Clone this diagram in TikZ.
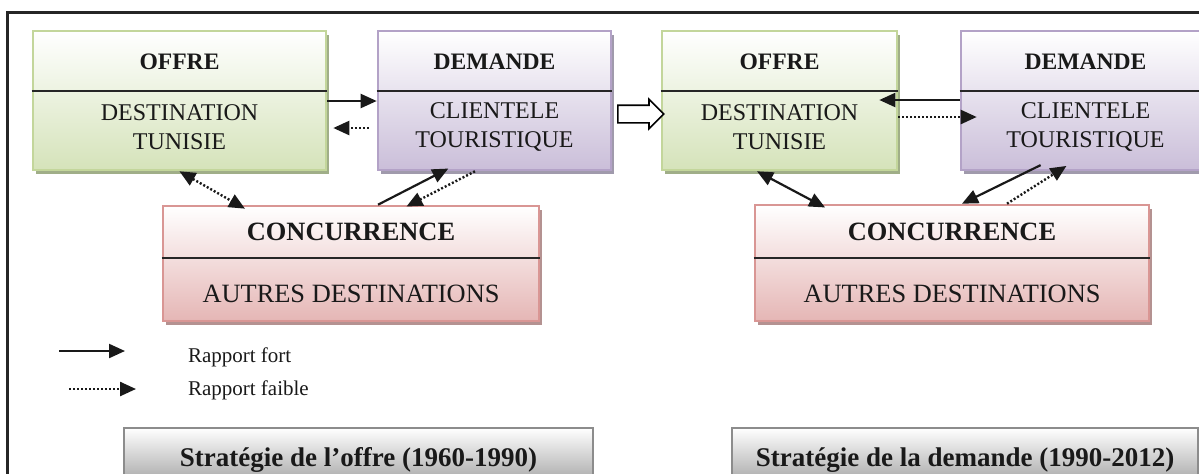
\documentclass[tikz,border=0pt]{standalone}
\usepackage{fontspec}
\setmainfont{Liberation Serif}
\usepackage{tikz}
\usetikzlibrary{
  arrows.meta,
  positioning,
  calc,
  fit,
  shadows,
  shapes.arrows}
\definecolor{vertbord}{RGB}{195,214,155}
\definecolor{vertfond}{RGB}{213,227,186}
\definecolor{vertombre}{RGB}{160,174,136}
\definecolor{violetbord}{RGB}{179,162,199}
\definecolor{violetfond}{RGB}{202,190,217}
\definecolor{violetombre}{RGB}{160,154,172}
\definecolor{rougebord}{RGB}{217,150,148}
\definecolor{rougefond}{RGB}{229,182,181}
\definecolor{rougeombre}{RGB}{180,146,145}
\definecolor{grisbord}{RGB}{140,140,140}
\definecolor{grisfond}{RGB}{140,140,140}
\tikzset{
  boite/.style n args={3}{draw=#1, line width=1.3pt, top color=white, bottom color=#2, inner sep=0pt,
    drop shadow={shadow xshift=1.5pt, shadow yshift=-2pt, fill=#3, opacity=1}},
  entete/.style={font=\fontsize{11.8}{14}\selectfont\bfseries, text=black!90},
  corps/.style={font=\fontsize{12}{14.5}\selectfont, align=center, text=black!90},
  grandentete/.style={font=\fontsize{13.2}{15}\selectfont\bfseries, text=black!90},
  grandcorps/.style={font=\fontsize{13.2}{15}\selectfont, text=black!90},
  legende/.style={font=\fontsize{10.5}{12}\selectfont, text=black!90, anchor=west},
  separation/.style={line width=0.8pt, black!85},
  fort/.style={-{Triangle[length=8pt,width=7pt]}, line width=1.1pt, black!90},
  faible/.style={-{Triangle[length=8pt,width=7pt]}, line width=1.2pt, dash pattern=on 1pt off 1pt, black!90},
  pointes/.style={{Triangle[length=8pt,width=7pt]}-{Triangle[length=8pt,width=7pt]}},
  basbox/.style={draw=grisbord, line width=1.2pt, top color=white, bottom color=grisfond, inner sep=0pt},
  bastexte/.style={font=\fontsize{13.5}{16}\selectfont\bfseries, text=black!90}
}

\begin{document}
\begin{tikzpicture}[x=0.5pt, y=-0.5pt, node distance=2em]
\useasboundingbox (0,0) rectangle (1199,473);
%cadre
\draw[line width=1.3pt, black!85] (7.5,12.5) rectangle (1215,495);

%strategie de l'offre
\node[boite={vertbord}{vertfond}{vertombre}, fit={(33,31) (326,170)}] (offreA) {};
\node[boite={violetbord}{violetfond}{violetombre}, fit={(378,31) (611,170)}] (demandeA) {};
\node[boite={rougebord}{rougefond}{rougeombre}, fit={(163,206) (539,321)}] (concA) {};
\draw[separation] (offreA.west |- 0,91) -- (offreA.east |- 0,91);
\draw[separation] (demandeA.west |- 0,91) -- (demandeA.east |- 0,91);
\draw[separation] (concA.west |- 0,258) -- (concA.east |- 0,258);
\node[entete] at (offreA.north |- 0,62) {OFFRE};
\node[corps] at (offreA.north |- 0,127) {DESTINATION\\TUNISIE};
\node[entete] at (demandeA.north |- 0,62) {DEMANDE};
\node[corps] at (demandeA.north |- 0,127) {CLIENTELE\\TOURISTIQUE};
\node[grandentete] at (concA.north |- 0,232) {CONCURRENCE};
\node[grandcorps] at (concA.north |- 0,294) {AUTRES DESTINATIONS};

%strategie de la demande
\node[boite={vertbord}{vertfond}{vertombre}, fit={(662,31) (897,170)}] (offreB) {};
\node[boite={violetbord}{violetfond}{violetombre}, fit={(961,31) (1210,170)}] (demandeB) {};
\node[boite={rougebord}{rougefond}{rougeombre}, fit={(755,205) (1149,321)}] (concB) {};
\draw[separation] (offreB.west |- 0,91) -- (offreB.east |- 0,91);
\draw[separation] (demandeB.west |- 0,91) -- (demandeB.east |- 0,91);
\draw[separation] (concB.west |- 0,258) -- (concB.east |- 0,258);
\node[entete] at (offreB.north |- 0,62) {OFFRE};
\node[corps] at (offreB.north |- 0,127) {DESTINATION\\TUNISIE};
\node[entete] at (demandeB.north |- 0,62) {DEMANDE};
\node[corps] at (demandeB.north |- 0,127) {CLIENTELE\\TOURISTIQUE};
\node[grandentete] at (concB.north |- 0,232) {CONCURRENCE};
\node[grandcorps] at (concB.north |- 0,294) {AUTRES DESTINATIONS};

%passage
\node[single arrow, draw, line width=0.8pt, fill=white, inner sep=0pt, text height=8pt,
  minimum height=23pt, single arrow head extend=3pt, anchor=west] (passage) at (617,114) {};

%lines
\draw[fort] (offreA.east |- 0,101) -- (demandeA.west |- 0,101);
\draw[faible, shorten <=4pt, shorten >=3pt] (demandeA.west |- 0,128) -- (offreA.east |- 0,128);
\draw[faible, pointes, shorten >=-4pt] (offreA.south) -- (concA.north -| 238,0);
\draw[fort, shorten >=-3pt] (concA.north -| 378,0) -- (demandeA.south -| 443,0);
\draw[faible, shorten >=-2pt] (demandeA.south -| 475,0) -- (concA.north -| 410,0);

\draw[fort, shorten >=-9.5pt] (demandeB.west |- 0,100) -- (offreB.east |- 0,100);
\draw[faible, shorten >=-8.5pt] (offreB.east |- 0,117) -- (demandeB.west |- 0,117);
\draw[fort, pointes, shorten >=-4pt] (offreB.south -| 757,0) -- (concB.north -| 818,0);
\draw[fort, shorten <=-7pt] (demandeB.south -| 1028,0) -- (concB.north -| 962,0);
\draw[faible, shorten >=-5pt] (concB.north -| 1007,0) -- (demandeB.south -| 1058,0);

%legende
\coordinate (fortdebut) at (59,351);
\coordinate (fortfin) at (125,351);
\coordinate (faibledebut) at (69,389);
\coordinate (faiblefin) at (136,389);
\draw[fort] (fortdebut) -- (fortfin);
\draw[faible] (faibledebut) -- (faiblefin);
\node[legende] (fortlabel) at (181,357) {Rapport fort};
\node[legende] (faiblelabel) at (181,390) {Rapport faible};

%titres
\node[basbox, fit={(124,428) (593,500)}] (offrestrat) {};
\node[basbox, fit={(732,428) (1198,500)}] (demandestrat) {};
\node[bastexte] at (offrestrat.north |- 0,460) {Stratégie de l’offre (1960-1990)};
\node[bastexte] at (demandestrat.north |- 0,460) {Stratégie de la demande (1990-2012)};
\end{tikzpicture}
\end{document}
